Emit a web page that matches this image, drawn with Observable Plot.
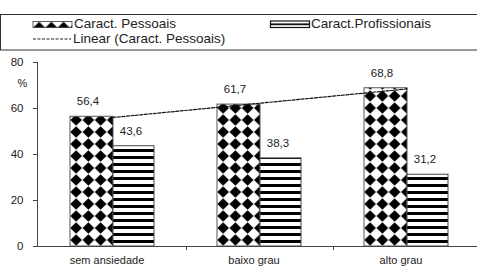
<!DOCTYPE html>
<html><head><meta charset="utf-8">
<script src="https://cdn.jsdelivr.net/npm/d3@7"></script>
<script src="https://cdn.jsdelivr.net/npm/@observablehq/plot@0.6"></script>
<style>
body{margin:0;background:#fff;font-family:"Liberation Sans",Arial,sans-serif;}
#wrap{position:relative;width:477px;height:271px;overflow:hidden;background:#fff;}
#legend{position:absolute;left:0;top:0;}
#chart{position:absolute;left:0;top:50px;}
#defs{position:absolute;width:0;height:0;}
</style></head><body>
<svg id="defs" width="0" height="0">
  <defs>
    <pattern id="diam" patternUnits="userSpaceOnUse" x="70" y="4" width="12.25" height="12">
      <rect width="12.25" height="12" fill="#fff"/>
      <path d="M6.125,0.3 L11.95,6 L6.125,11.7 L0.3,6Z" fill="#000"/>
    </pattern>
    <pattern id="stripe" patternUnits="userSpaceOnUse" x="0" y="0" width="8" height="7">
      <rect width="8" height="7" fill="#fff"/>
      <rect y="1" width="8" height="3" fill="#000"/>
    </pattern>
    <pattern id="diamLeg" patternUnits="userSpaceOnUse" x="33" y="21.5" width="12.25" height="12">
      <rect width="12.25" height="12" fill="#fff"/>
      <path d="M6.125,0.3 L11.95,6 L6.125,11.7 L0.3,6Z" fill="#000"/>
    </pattern>
  </defs>
</svg>
<div id="wrap">
<svg id="legend" width="477" height="51" font-family="Liberation Sans, Arial, sans-serif" font-size="13.5" fill="#222">
  <rect x="0.5" y="14.5" width="490" height="35.5" fill="none" stroke="#333" stroke-width="1"/>
  <rect x="33" y="21.5" width="39" height="6" fill="url(#diamLeg)" stroke="#333" stroke-width="0.8"/>
  <text id="l1" x="74" y="28"></text>
  <rect x="270.5" y="21" width="39" height="6.5" fill="#fff" stroke="#111" stroke-width="1.2"/>
  <rect x="270.5" y="23.4" width="39" height="1.8" fill="#111"/>
  <text id="l2" x="311" y="28"></text>
  <line x1="33" x2="71" y1="39" y2="39" stroke="#222" stroke-width="1.2" stroke-dasharray="3,1.5"/>
  <text id="l3" x="73" y="43"></text>
</svg>
<div id="chart"></div>
</div>
<script>
const categories = ["sem ansiedade", "baixo grau", "alto grau"];
const pessoais = [56.4, 61.7, 68.8];
const profissionais = [43.6, 38.3, 31.2];
const yTicks = [0, 20, 40, 60, 80];
const seriesNames = ["Caract. Pessoais", "Caract.Profissionais", "Linear (Caract. Pessoais)"];
const yUnit = "%";

document.getElementById("l1").textContent = seriesNames[0];
document.getElementById("l2").textContent = seriesNames[1];
document.getElementById("l3").textContent = seriesNames[2];

const data = categories.map((c, i) => ({cat: c, pes: pessoais[i], pro: profissionais[i]}));

// linear trendline of Caract. Pessoais (least squares over category index)
const idx = d3.range(pessoais.length);
const mx = d3.mean(idx), my = d3.mean(pessoais);
const slope = d3.sum(idx, i => (i - mx) * (pessoais[i] - my)) / d3.sum(idx, i => (i - mx) ** 2);
const trend = categories.map((c, i) => ({cat: c, v: my + slope * (i - mx)}));

const fmt = v => String(v).replace(".", ",");
const x0 = 39, x1 = 480;
const bw = (x1 - x0) / categories.length;

const chart = Plot.plot({
  width: 477, height: 221,
  marginTop: 12, marginBottom: 25, marginLeft: 37, marginRight: 0,
  style: {fontFamily: "Liberation Sans, Arial, sans-serif", fontSize: "11px", color: "#222", background: "transparent", overflow: "visible"},
  x: {domain: categories, range: [x0, x1], padding: 0, axis: null, label: null},
  y: {domain: [0, 80], range: [196, 12], axis: null, label: null},
  marks: [
    Plot.barY(data, {x: "cat", y: "pes", fill: "url(#diam)", stroke: "#555", strokeWidth: 1, insetLeft: 31, insetRight: 73}),
    Plot.barY(data, {x: "cat", y: "pro", fill: "url(#stripe)", stroke: "#444", strokeWidth: 1, insetLeft: 74, insetRight: 32}),
    Plot.lineY(trend, {x: "cat", y: "v", stroke: "#111", strokeWidth: 1.2, strokeDasharray: "3,1.5"}),
    Plot.text(data, {x: "cat", y: "pes", text: d => fmt(d.pes), dx: -25, dy: -15, fontSize: 11.5, fill: "#222"}),
    Plot.text(data, {x: "cat", y: "pro", text: d => fmt(d.pro), dx: 18, dy: -15, fontSize: 11.5, fill: "#222"}),
    Plot.axisY(yTicks, {anchor: "left", tickSize: 4, tickPadding: 10, fontSize: 11.5, stroke: "#444", fill: "#222", label: null}),
    Plot.frame({anchor: "left", stroke: "#444"}),
    Plot.frame({anchor: "bottom", stroke: "#444"}),
    Plot.axisX({anchor: "bottom", tickSize: 0, tickPadding: 10, dx: -6, fontSize: 11, fill: "#222", label: null}),
    Plot.ruleX(categories.slice(1), {x: d => d, dx: -bw / 2, y1: 0, y2: 0, insetBottom: -4, stroke: "#444"}),
    Plot.text([yUnit], {frameAnchor: "top-left", dx: -20, dy: 17, fontSize: 11, fill: "#222"})
  ]
});
document.getElementById("chart").appendChild(chart);
</script>
</body></html>
